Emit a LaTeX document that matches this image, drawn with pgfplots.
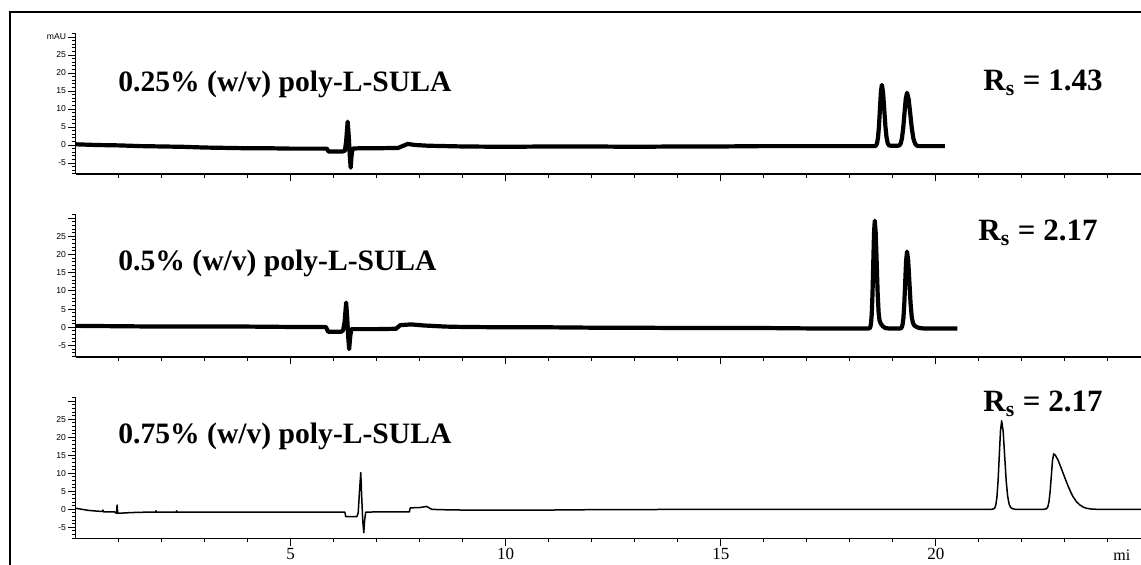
\documentclass[border=0pt]{standalone}
\usepackage{fontspec}
\setmainfont{Liberation Serif}
\setsansfont{Liberation Sans}
\usepackage{pgfplots}
\pgfplotsset{compat=1.18}

% one electropherogram panel: time axis in min, absorbance in mAU
\pgfplotsset{
  trace/.style={
    scale only axis, width=532.7pt,
    xmin=0, xmax=24.77, ymin=-8.1, ymax=31.2,
    axis x line*=bottom, axis y line*=left,
    axis line style={-, line width=0.75pt, black},
    tick align=outside,
    tick style={black, line width=0.5pt},
    major tick length=3.6pt, minor tick length=2pt,
    xtick={5,10,15,20},
    minor xtick={1,2,3,4,6,7,8,9,11,12,13,14,16,17,18,19,21,22,23,24},
    ytick={-5,0,5,10,15,20,25,30},
    minor ytick={-8,-7,...,31},
    yticklabels={-5,0,5,10,15,20,25,},
    xticklabels={},
    yticklabel style={font=\sffamily\fontsize{4.3}{5}\selectfont, inner sep=1pt},
    xticklabel style={font=\fontsize{8.5}{10}\selectfont, inner sep=0pt, yshift=-1pt},
    clip=false,
  },
}

\begin{document}
\begin{tikzpicture}
\useasboundingbox (0,0) rectangle (570.5pt,282.5pt);

% outer frame
\draw[line width=1.2pt] (5pt,-2pt) -- (5pt,276.5pt) -- (572pt,276.5pt);

% 0.25 % (w/v)
\begin{axis}[trace, at={(37.8pt,195.4pt)}, anchor=south west, height=70.74pt,
  yticklabels={-5,0,5,10,15,20,25,mAU}]
\addplot[black, line width=2.1pt, line join=round] coordinates {
(0,0.2) (0.5,0.0) (1,-0.1) (1.5,-0.3) (2,-0.4) (2.5,-0.5) (3,-0.7) (3.5,-0.8)
(4,-0.9) (4.5,-0.9) (5,-1.0) (5.5,-1.0) (5.84,-1.0) (5.88,-1.8) (6.2,-1.8)
(6.26,-1.6) (6.29,1.0) (6.325,6.5) (6.35,2.5) (6.375,-3.0) (6.395,-6.3)
(6.415,-3.0) (6.44,-1.0) (6.6,-0.9) (7,-0.9) (7.5,-0.8) (7.62,-0.2) (7.72,0.3)
(7.9,0.0) (8.2,-0.2) (8.6,-0.3) (9,-0.4) (10,-0.5) (11,-0.4) (12,-0.4) (13,-0.5)
(14,-0.4) (15,-0.4) (16,-0.3) (17,-0.3) (18,-0.3) (18.58,-0.3) (18.61,-0.1)
(18.6325,0.45) (18.655,2.0) (18.6775,5.2) (18.70,10.0) (18.7225,14.7)
(18.745,16.7) (18.7725,14.7) (18.80,10.0) (18.8275,5.2) (18.855,2.0)
(18.8825,0.45) (18.91,-0.1) (18.95,-0.2) (19.1,-0.2) (19.15,-0.14) (19.18,0.35)
(19.21,1.7) (19.24,4.5) (19.27,8.7) (19.30,12.8) (19.33,14.5) (19.3675,12.8)
(19.405,8.7) (19.4425,4.5) (19.48,1.7) (19.5175,0.35) (19.555,-0.14)
(19.6,-0.3) (20,-0.3) (20.21,-0.3)
};
\end{axis}

% 0.5 % (w/v)
\begin{axis}[trace, at={(37.8pt,104.1pt)}, anchor=south west, height=71.5pt]
\addplot[black, line width=2.1pt, line join=round] coordinates {
(0,0.4) (1,0.3) (2,0.2) (3,0.2) (4,0.2) (5,0.1) (5.82,0.1) (5.87,-1.2)
(6.18,-1.2) (6.22,-0.8) (6.255,1.5) (6.29,6.8) (6.315,2.5) (6.34,-3.0)
(6.36,-6.0) (6.385,-2.5) (6.41,-0.5) (6.6,-0.5) (7,-0.5) (7.45,-0.4) (7.55,0.6)
(7.8,0.8) (8.1,0.5) (8.6,0.2) (9,0.1) (10,0.0) (11,0.0) (12,-0.1) (13,-0.1)
(14,-0.2) (15,-0.2) (16,-0.2) (17,-0.3) (18,-0.3) (18.45,-0.3) (18.475,0.0)
(18.4925,1.0) (18.51,3.7) (18.5275,9.3) (18.545,17.65) (18.5625,25.8)
(18.58,29.3) (18.6025,25.8) (18.625,17.65) (18.6475,9.3) (18.67,4.0)
(18.6925,1.8) (18.72,1.0) (18.76,0.4) (18.82,-0.2) (18.9,-0.3) (19.18,-0.3)
(19.204,-0.07) (19.225,0.63) (19.246,2.55) (19.267,6.55) (19.288,12.5)
(19.309,18.3) (19.33,20.8) (19.3575,18.3) (19.385,12.5) (19.4125,6.55)
(19.44,2.8) (19.4675,1.2) (19.50,0.5) (19.55,0.1) (19.62,-0.2) (19.7,-0.3)
(20,-0.3) (20.5,-0.3)
};
\end{axis}

% 0.75 % (w/v)
\begin{axis}[trace, at={(37.8pt,13.25pt)}, anchor=south west, height=70.74pt,
  xticklabels={5,10,15,20}]
\addplot[black, line width=0.75pt, line join=round] coordinates {
(0,0.3) (0.15,0.0) (0.3,-0.3) (0.5,-0.5) (0.62,-0.6) (0.635,-0.2) (0.65,-0.7)
(0.9,-0.7) (0.95,-1.1) (0.965,1.2) (0.98,-1.1) (1.3,-0.9) (1.6,-0.8)
(1.86,-0.8) (1.87,-0.4) (1.88,-0.8) (2.34,-0.8) (2.35,-0.4) (2.36,-0.8)
(3,-0.8) (4,-0.8) (5,-0.8) (6,-0.8) (6.26,-0.8) (6.28,-2.0) (6.54,-2.0)
(6.57,-1.0) (6.6,5.0) (6.63,10.2) (6.65,4.0) (6.675,-3.0) (6.70,-6.5)
(6.72,-3.0) (6.745,-0.8) (7,-0.7) (7.5,-0.7) (7.76,-0.7) (7.78,0.4) (8.0,0.5)
(8.16,0.8) (8.28,0.0) (8.5,-0.1) (9,-0.2) (10,-0.2) (11,-0.2) (12,-0.1)
(13,-0.1) (14,0) (16,0) (18,0) (20,0) (21.3,0) (21.365,0.27) (21.3925,1.08)
(21.42,3.33) (21.4475,8.0) (21.475,14.9) (21.5025,21.7) (21.53,24.6)
(21.565,21.7) (21.60,14.9) (21.635,8.0) (21.67,3.6) (21.705,1.4) (21.74,0.5)
(21.79,0.15) (21.85,0) (22.5,0) (22.575,0.17) (22.6025,0.68) (22.63,2.08)
(22.6575,5.0) (22.685,9.3) (22.7125,13.6) (22.74,15.4) (22.78,15.0)
(22.84,13.7) (22.90,11.9) (22.96,10.0) (23.02,8.1) (23.08,6.3) (23.14,4.7)
(23.19,3.5) (23.27,2.1) (23.35,1.2) (23.43,0.6) (23.50,0.3) (23.6,0.1)
(23.75,0) (24.77,0)
};
\end{axis}

% panel captions
\begin{scope}[every node/.style={inner sep=0pt, anchor=base west,
    font=\bfseries\fontsize{14.8}{17}\selectfont}]
\node at (59pt,236.65pt) {0.25\% (w/v) poly-L-SULA};
\node at (59pt,147pt) {0.5\% (w/v) poly-L-SULA};
\node at (59pt,60.85pt) {0.75\% (w/v) poly-L-SULA};
\end{scope}
% resolutions
\begin{scope}[every node/.style={inner sep=0pt, anchor=base west,
    font=\bfseries\fontsize{15.5}{18}\selectfont}]
\node at (491.5pt,237pt) {R\textsubscript{s} = 1.43};
\node at (489pt,162pt) {R\textsubscript{s} = 2.17};
\node at (491.5pt,76.5pt) {R\textsubscript{s} = 2.17};
\end{scope}
\node[inner sep=0pt, anchor=base west, font=\fontsize{8}{9}\selectfont]
  at (556.5pt,2pt) {mi};
\end{tikzpicture}
\end{document}
